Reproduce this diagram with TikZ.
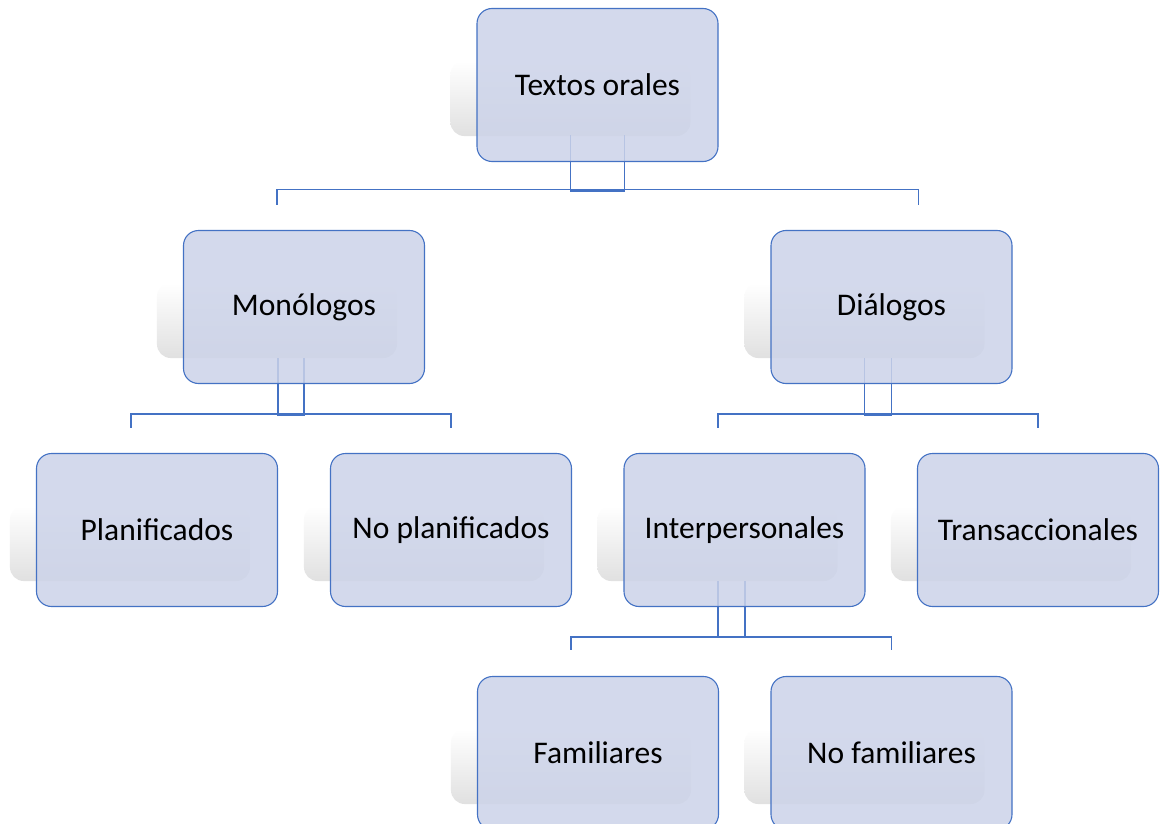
\documentclass[tikz,border=0pt]{standalone}
\usepackage{fontspec}
\setmainfont{Carlito}
\usetikzlibrary{calc}
\definecolor{edge}{RGB}{68,114,196}
\definecolor{boxfill}{RGB}{204,211,233}
\pgfdeclarelayer{shadowlayer}
\pgfdeclarelayer{linelayer}
\pgfsetlayers{shadowlayer,linelayer,main}
\newcommand\shadowof[1]{%
  \begin{pgfonlayer}{shadowlayer}
    \shade[shadowbox] ($(#1.north west)+(-26,53)$) rectangle ($(#1.south east)+(-28,-26)$);
  \end{pgfonlayer}}
\begin{document}
\begin{tikzpicture}[x=1pt,y=-1pt,
  box/.style={draw=edge, line width=1.1pt, fill=boxfill, fill opacity=0.85, draw opacity=1, text opacity=1,
    rounded corners=15pt, minimum width=241pt, minimum height=153pt, inner sep=0pt,
    font=\fontsize{31.5}{38}\selectfont, text=black},
  link/.style={draw=edge, line width=1.1pt},
  shadowbox/.style={rounded corners=14pt, top color=white, bottom color=black!12, draw=none}]
\begin{pgfonlayer}{shadowlayer}
  \fill[white] (0,0) rectangle (1160,824);
\end{pgfonlayer}
\useasboundingbox (0,0) rectangle (1160,824);

\node[box] (t)  at (597.5,85)  {Textos orales};
\node[box] (m)  at (304,307)   {Monólogos};
\node[box] (d)  at (891.5,307) {Diálogos};
\node[box] (p)  at (157,530)   {Planificados};
\node[box] (np) at (451,530)   {No planificados};
\node[box] (ip) at (744.5,530) {Interpersonales};
\node[box] (tr) at (1038,530)  {Transaccionales};
\node[box] (f)  at (598,753)   {Familiares};
\node[box] (nf) at (891.5,753) {No familiares};

\foreach \n in {t,m,d,p,np,ip,tr,f,nf}{\shadowof{\n}}

\begin{pgfonlayer}{linelayer}
  % Textos orales
  \coordinate (t1) at ($(m.north)+(-27,-40)$);
  \coordinate (t2) at ($(d.north)+(27,-40)$);
  \draw[link] ($(t.south)+(-27,-27)$) -- ($(t.south)+(-27,29)$) -- ($(t.south)+(27,29)$) -- ($(t.south)+(27,-27)$);
  \draw[link] ($(t1)+(0,15)$) -- (t1) -- (t2) -- ($(t2)+(0,15)$);
  % Monologos
  \coordinate (m1) at ($(p.north)+(-26,-39)$);
  \coordinate (m2) at ($(np.north)+(0,-39)$);
  \draw[link] ($(m.south)+(-26,-26)$) -- ($(m.south)+(-26,31)$) -- ($(m.south)+(0,31)$) -- ($(m.south)+(0,-26)$);
  \draw[link] ($(m1)+(0,14)$) -- (m1) -- (m2) -- ($(m2)+(0,14)$);
  % Dialogos
  \coordinate (d1) at ($(ip.north)+(-26.5,-39)$);
  \coordinate (d2) at ($(tr.north)+(0,-39)$);
  \draw[link] ($(d.south)+(-27,-26)$) -- ($(d.south)+(-27,31)$) -- ($(d.south)+(0,31)$) -- ($(d.south)+(0,-26)$);
  \draw[link] ($(d1)+(0,14)$) -- (d1) -- (d2) -- ($(d2)+(0,14)$);
  % Interpersonales
  \coordinate (i1) at ($(f.north)+(-27,-39)$);
  \coordinate (i2) at ($(nf.north)+(0,-39)$);
  \draw[link] ($(ip.south)+(-26.5,-26)$) -- ($(ip.south)+(-26.5,30.5)$) -- ($(ip.south)+(0.5,30.5)$) -- ($(ip.south)+(0.5,-26)$);
  \draw[link] ($(i1)+(0,13)$) -- (i1) -- (i2) -- ($(i2)+(0,13)$);
\end{pgfonlayer}
\end{tikzpicture}
\end{document}
